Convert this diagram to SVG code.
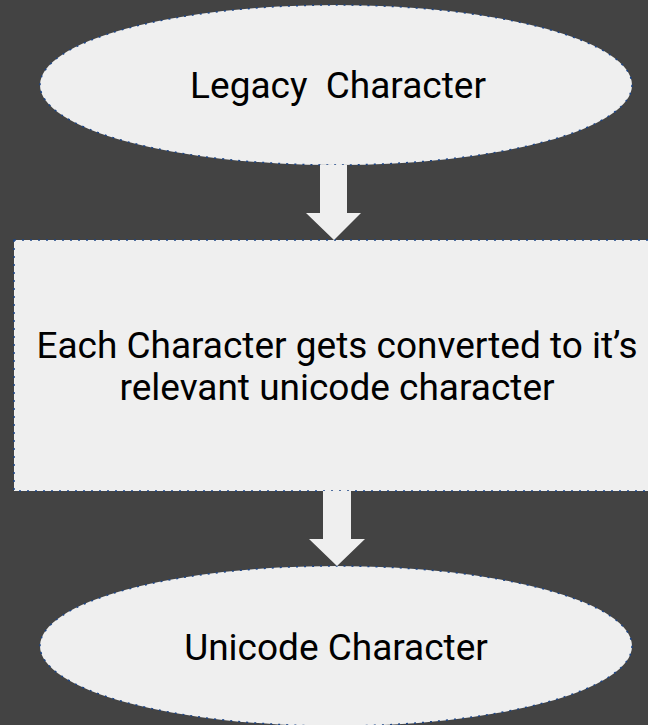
<svg xmlns="http://www.w3.org/2000/svg" width="648" height="725" viewBox="0 0 648 725">
<style>
.shape{fill:#efefef;stroke:#1c4587;stroke-width:1.5;stroke-dasharray:2 6}
.arrow{fill:#efefef;stroke:none}
.lbl{font-family:Roboto,"Liberation Sans",sans-serif;font-size:37px;fill:#000;text-anchor:middle}
</style>
<rect width="648" height="725" fill="#434343"/>
<g id="legacy">
<ellipse class="shape" cx="336" cy="85" rx="296" ry="80"/>
<text class="lbl" x="338" y="98" xml:space="preserve">Legacy  Character</text>
</g>
<g id="convert">
<rect class="shape" x="14" y="240" width="650" height="251"/>
<text class="lbl" x="337" y="358">Each Character gets converted to it’s</text>
<text class="lbl" x="337" y="400">relevant unicode character</text>
</g>
<g id="unicode">
<ellipse class="shape" cx="336" cy="646" rx="296" ry="80"/>
<text class="lbl" x="336" y="660">Unicode Character</text>
</g>
<g id="connectors">
<polygon class="arrow" points="320,165 347,165 347,213 361,213 334,240 306,213 320,213"/>
<polygon class="arrow" points="323,491 351,491 351,539 365,539 337,566 309,539 323,539"/>
</g>
</svg>
